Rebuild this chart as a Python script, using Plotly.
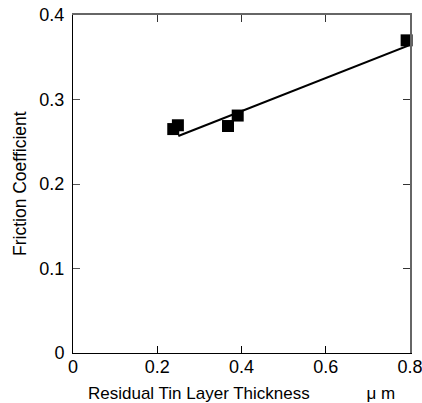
import plotly.graph_objects as go

thickness = [0.238, 0.249, 0.368, 0.391, 0.792]
friction = [0.265, 0.2695, 0.2686, 0.281, 0.370]
fit_x = [0.25, 0.80]
fit_y = [0.2568, 0.3645]
x_ticks = [0, 0.2, 0.4, 0.6, 0.8]
x_labels = ["0", "0.2", "0.4", "0.6", "0.8"]
y_ticks = [0, 0.1, 0.2, 0.3, 0.4]
y_labels = ["0", "0.1", "0.2", "0.3", "0.4"]
x_title = "Residual Tin Layer Thickness"
x_unit = "\u03bc\u00a0m"
y_title = "Friction Coefficient"

font = "Liberation Sans, Arial, sans-serif"

fig = go.Figure()
fig.add_trace(go.Scatter(x=fit_x, y=fit_y, mode="lines",
                         line=dict(color="black", width=2), showlegend=False))
fig.add_trace(go.Scatter(x=thickness, y=friction, mode="markers",
                         marker=dict(symbol="square", size=12, color="black"),
                         showlegend=False, cliponaxis=False))
fig.add_trace(go.Scatter(x=[None], y=[None], xaxis="x2", yaxis="y2", showlegend=False))

gap = "\u00a0" * 12
fig.update_layout(
    width=422, height=403,
    margin=dict(l=73, r=12, t=15, b=50),
    paper_bgcolor="white", plot_bgcolor="white",
    font=dict(family=font, color="black"),
    xaxis=dict(range=[0, 0.8], tickvals=x_ticks, ticktext=x_labels,
               ticks="inside", ticklen=7, tickcolor="black", tickwidth=1,
               showline=True, linecolor="black", linewidth=1,
               showgrid=False, zeroline=False, automargin=False,
               ticklabelstandoff=-3, ticklabeloverflow="allow",
               tickfont=dict(size=18, family=font)),
    yaxis=dict(range=[0, 0.4], tickvals=y_ticks, ticktext=y_labels,
               ticks="inside", ticklen=7, tickcolor="#555", tickwidth=1,
               showline=True, linecolor="black", linewidth=1,
               showgrid=False, zeroline=False, automargin=False,
               ticklabelstandoff=4, ticklabeloverflow="allow",
               tickfont=dict(size=18, family=font)),
    xaxis2=dict(overlaying="x", side="top", range=[0, 0.8], tickvals=x_ticks,
                ticks="inside", ticklen=7, tickcolor="#333",
                showticklabels=False, showline=True, linecolor="#666",
                linewidth=1.5, showgrid=False, zeroline=False, anchor="y2",
                automargin=False),
    yaxis2=dict(overlaying="y", side="right", range=[0, 0.4], tickvals=y_ticks,
                ticks="inside", ticklen=7, tickcolor="#333",
                showticklabels=False, showline=True, linecolor="#666",
                linewidth=1.5, showgrid=False, zeroline=False, anchor="x2",
                automargin=False),
    annotations=[
        dict(text=x_title + gap + x_unit, x=0.5, y=0, xref="paper", yref="paper",
             yshift=-40, showarrow=False, borderpad=0,
             font=dict(size=17, family=font),
             xanchor="center", yanchor="middle"),
        dict(text=y_title, x=0, y=0.5, xref="paper", yref="paper",
             xshift=-53, textangle=-90, showarrow=False,
             font=dict(size=17.5, family=font),
             xanchor="center", yanchor="middle"),
    ],
)

fig.write_html("out.html", config={"displayModeBar": False},
               post_script="document.body.style.margin='0';document.body.style.overflow='hidden';")
